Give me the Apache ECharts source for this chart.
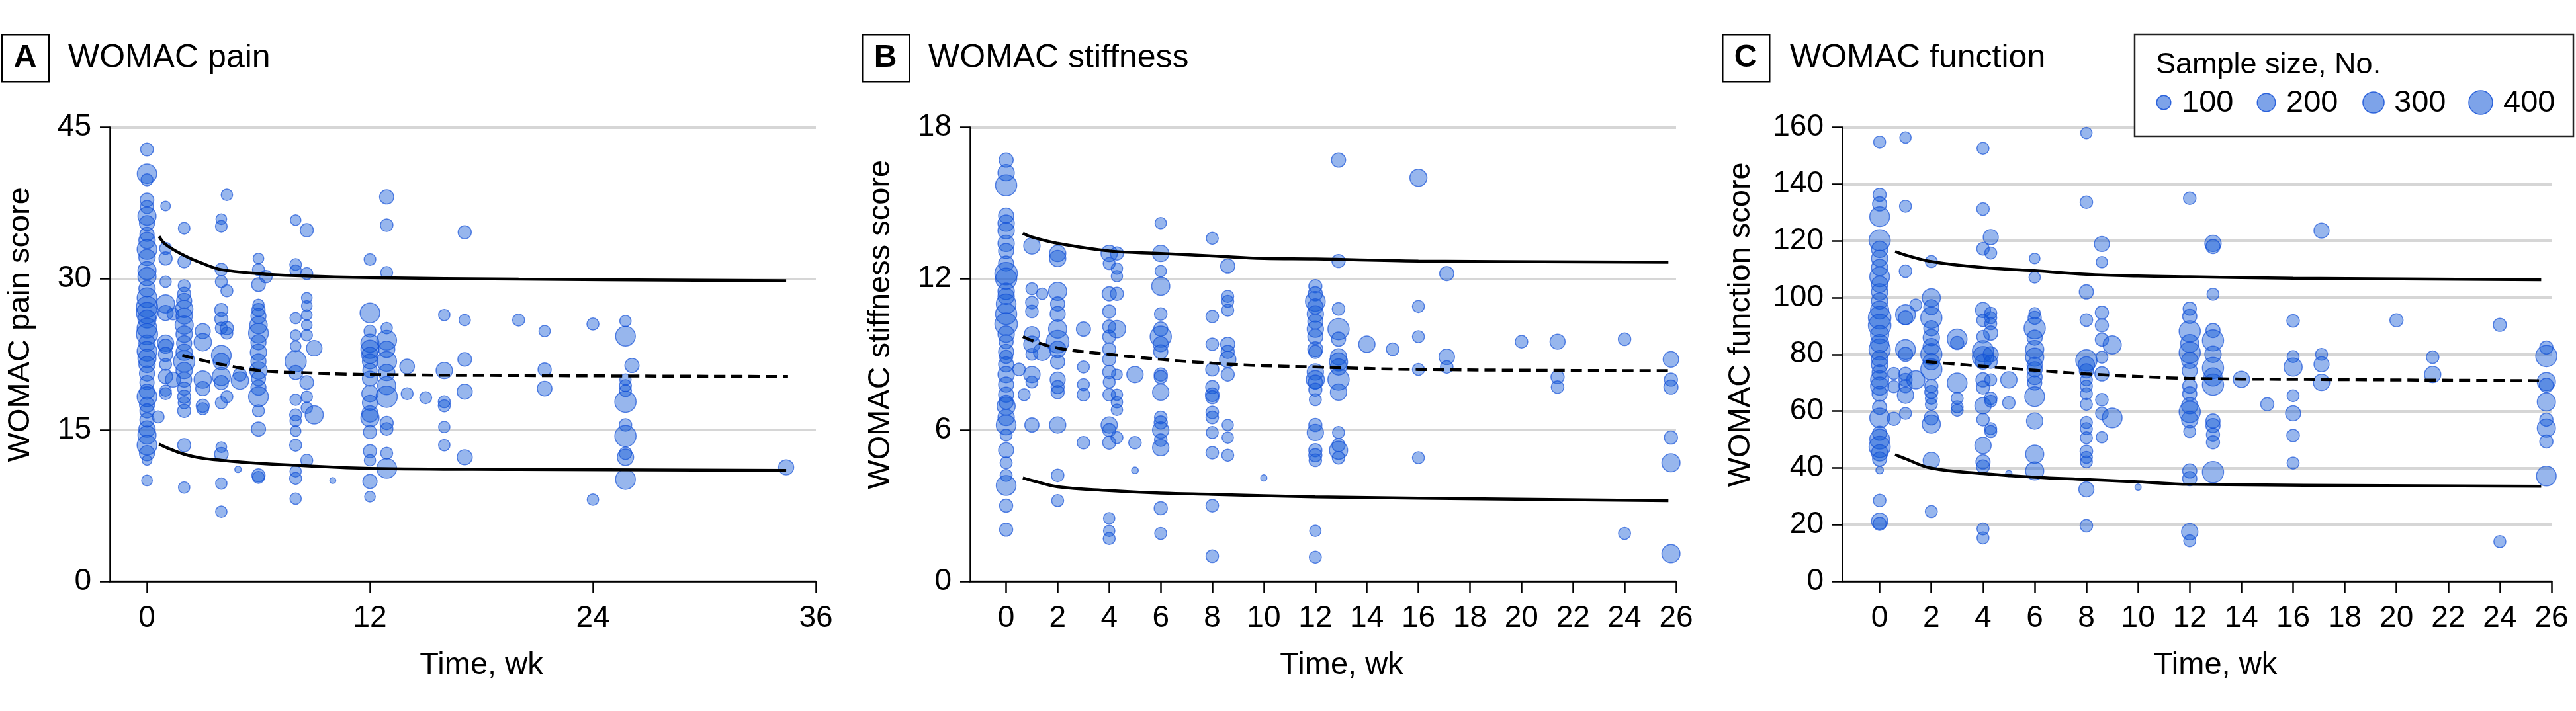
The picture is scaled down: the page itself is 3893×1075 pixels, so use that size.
<!DOCTYPE html>
<html>
<head>
<meta charset="utf-8">
<script src="https://cdn.jsdelivr.net/npm/echarts@6/dist/echarts.min.js"></script>
<style>
html,body{margin:0;padding:0;background:#fff;}
#chart{width:3893px;height:1075px;}
</style>
</head>
<body>
<div id="chart"></div>
<script>
// ---------- DATA ----------
// points: [week, score, sample size]
var painPoints = [
[0,42.8,75],[0,40.4,240],[0,39.8,60],[0,37.8,90],[0,37.1,80],[0,36.2,200],[0,35.5,120],[0,34.4,100],[0,33.8,150],[0,32.9,250],[0,32.1,150],[0,30.8,200],[0,30.2,200],[0,29.0,150],[0,28.1,250],[0,27.2,300],[0,26.6,300],[0,26.0,200],[0,25.1,250],[0,24.5,300],[0,23.6,150],[0,22.8,250],[0,22.1,200],[0,21.5,150],[0,20.6,120],[0,19.7,100],[0,18.8,120],[0,18.3,250],[0,17.5,120],[0,16.9,100],[0,16.0,100],[0,15.1,150],[0,14.5,200],[0,13.5,250],[0,12.7,120],[0,12.0,30],[0,10.0,40],
[0.6,16.3,60],
[1,37.2,28],[1,33.0,60],[1,32.0,80],[1,29.7,50],[1,27.5,200],[1,26.6,120],[1,23.6,150],[1,23.3,100],[1,22.5,100],[1,21.5,60],[1,20.3,100],[1,18.9,50],[1,18.6,60],
[1.4,20.0,120],[1.4,26.5,60],
[2,35.0,54],[2,31.7,70],[2,29.3,60],[2,28.5,80],[2,27.8,120],[2,27.0,180],[2,26.3,150],[2,25.4,200],[2,24.5,150],[2,23.6,120],[2,22.7,150],[2,21.8,300],[2,20.9,150],[2,20.0,120],[2,19.1,80],[2,18.3,80],[2,17.7,60],[2,16.9,80],[2,13.5,80],[2,9.3,50],
[3,24.8,120],[3,23.7,180],[3,20.0,180],[3,19.1,100],[3,17.4,80],[3,17.1,60],
[4,35.9,40],[4,35.2,55],[4,30.9,70],[4,29.7,60],[4,26.9,80],[4,26.0,80],[4,25.1,60],[4,22.4,250],[4,21.8,150],[4,20.3,200],[4,19.7,100],[4,17.7,60],[4,13.3,40],[4,12.6,90],[4,9.7,50],[4,6.9,50],
[4.3,38.3,50],[4.3,28.8,60],[4.3,25.1,80],[4.3,24.6,60],[4.3,18.3,60],
[5,19.9,180],[5,20.5,80],[4.9,11.1,4],
[6,32.0,40],[6,30.9,60],[6.4,30.2,70],[6,29.4,90],[6,27.4,50],[6,26.9,80],[6,26.3,120],[6,25.4,180],[6,24.6,250],[6,23.7,120],[6,22.7,150],[6,21.8,120],[6,20.9,180],[6,20.1,100],[6,19.2,120],[6,18.3,250],[6,16.9,60],[6,15.1,100],[6,10.5,80],[6,10.3,60],
[8,35.8,40],[8,31.4,55],[8,30.8,50],[8,26.1,50],[8,24.4,40],[8,23.3,40],[8,21.8,300],[8,20.7,100],[8,18.0,50],[8,16.5,60],[8,15.9,50],[8,14.9,40],[8,13.5,60],[8,10.9,50],[8,10.2,60],[8,8.2,50],
[8.6,34.8,80],[8.6,30.5,60],[8.6,28.1,40],[8.6,27.3,40],[8.6,26.4,40],[8.6,25.4,40],[8.6,24.4,50],[8.6,19.7,90],[8.6,18.3,50],[8.6,17.2,50],[8.6,12.0,60],
[9,23.1,130],[9,16.5,200],[10,10.0,2],
[12,31.9,55],[12,26.6,250],[12,24.8,60],[12,23.6,200],[12,23.0,200],[12,22.4,150],[12,21.8,120],[12,20.9,100],[12,20.1,120],[12,18.6,150],[12,17.7,120],[12,16.6,150],[12,16.2,200],[12,14.8,80],[12,12.9,80],[12,12.0,50],[12,9.9,100],[12,8.4,40],
[12.9,38.1,100],[12.9,35.3,70],[12.9,30.6,60],[12.9,25.1,50],[12.9,23.9,250],[12.9,23.0,150],[12.9,21.8,250],[12.9,20.7,150],[12.9,19.4,200],[12.9,18.3,300],[12.9,15.7,80],[12.9,15.1,70],[12.9,12.7,60],[12.9,11.2,250],
[14,21.3,110],[14,18.6,60],[15,18.2,60],
[16,26.4,50],[16,20.9,150],[16,17.8,60],[16,17.4,60],[16,15.3,50],[16,13.5,50],
[17.1,34.6,80],[17.1,25.9,50],[17.1,22.0,90],[17.1,18.8,120],[17.1,12.3,120],
[20,25.9,60],[21.4,24.8,50],[21.4,21.0,80],[21.4,19.1,110],
[24,25.5,60],[24,8.1,50],
[25.75,25.8,50],[25.75,24.3,250],[25.75,20.0,50],[25.75,19.4,60],[25.75,18.9,60],[25.75,17.8,300],[25.75,15.5,70],[25.75,14.4,300],[25.75,12.7,70],[25.75,12.3,150],[25.75,10.1,250],
[26.1,21.4,100],[34.4,11.3,120]
];
var painUpper = [[0.65,34.2],[1,33.4],[2,32.3],[3,31.5],[4,30.9],[6,30.5],[8,30.3],[12,30.1],[20,29.95],[34.4,29.8]];
var painMedian = [[1.9,22.4],[3,21.9],[4,21.5],[6,20.9],[8,20.7],[12,20.5],[20,20.4],[34.5,20.3]];
var painLower = [[0.65,13.6],[1,13.3],[2,12.6],[3,12.2],[4,12.0],[6,11.7],[8,11.5],[12,11.2],[20,11.1],[34.4,11.0]];

var stiffPoints = [
[0,16.7,100],[0,16.2,150],[0,15.7,300],[0,14.5,120],[0,14.2,150],[0,13.9,150],[0,13.4,150],[0,13.1,120],[0,12.6,120],[0,12.2,350],[0,12.0,300],[0,11.5,150],[0,11.3,150],[0,11.0,250],[0,10.6,300],[0,10.2,350],[0,9.8,150],[0,9.5,100],[0,9.1,120],[0,8.9,80],[0,8.6,120],[0,8.2,150],[0,7.8,120],[0,7.4,120],[0,7.1,100],[0,6.95,200],[0,6.5,150],[0,6.2,250],[0,5.8,60],[0,5.2,120],[0,4.7,60],[0,4.2,60],[0,3.8,250],[0,3.0,80],[0,2.05,80],
[0.5,8.4,70],[0.7,7.4,60],
[1,13.3,150],[1,11.6,60],[1,11.05,70],[1,10.7,70],[1,9.8,120],[1,9.4,150],[1,9.0,60],[1,8.2,150],[1,7.9,60],[1,6.2,100],
[1.4,11.4,50],[1.4,9.1,180],
[2,13.0,150],[2,12.8,150],[2,11.5,200],[2,11.0,100],[2,10.6,120],[2,10.0,200],[2,9.5,350],[2,9.2,150],[2,8.7,100],[2,8.0,120],[2,7.7,80],[2,7.5,80],[2,6.2,150],[2,4.2,70],[2,3.2,60],
[3,10.0,100],[3,8.5,60],[3,7.8,60],[3,7.4,70],[3,5.5,70],
[4,13.0,150],[4,12.6,60],[4,11.4,100],[4,10.7,80],[4,10.1,80],[4,9.7,80],[4,9.2,80],[4,8.8,80],[4,8.3,80],[4,7.9,60],[4,7.4,70],[4,6.2,150],[4,6.0,80],[4,5.5,80],[4,2.5,50],[4,2.0,50],[4,1.7,60],
[4.3,13.0,80],[4.3,12.4,50],[4.3,12.1,50],[4.3,11.4,80],[4.3,10.0,180],[4.3,8.2,40],[4.3,7.4,50],[4.3,7.1,50],[4.3,6.8,50],[4.3,5.7,60],
[5,8.2,150],[5,5.5,70],[5,4.4,5],
[6,14.2,50],[6,13.0,150],[6,12.3,50],[6,11.7,200],[6,10.6,70],[6,10.0,100],[6,9.7,300],[6,9.4,120],[6,9.1,100],[6,8.2,80],[6,8.1,80],[6,7.5,150],[6,6.5,70],[6,6.3,80],[6,6.0,150],[6,5.6,70],[6,5.3,150],[6,2.9,80],[6,1.9,60],
[8,13.6,60],[8,10.5,70],[8,9.4,70],[8,8.4,80],[8,7.7,80],[8,7.4,90],[8,7.3,80],[8,6.7,70],[8,6.5,70],[8,5.9,60],[8,5.1,70],[8,3.0,70],[8,1.0,70],
[8.6,12.5,100],[8.6,11.3,60],[8.6,11.1,60],[8.6,10.75,60],[8.6,9.4,100],[8.6,9.1,80],[8.6,8.8,150],[8.6,8.2,80],[8.6,6.2,50],[8.6,5.7,50],[8.6,5.0,60],
[10,4.1,3],
[12,11.7,80],[12,11.4,100],[12,11.1,250],[12,10.9,120],[12,10.6,150],[12,10.3,120],[12,10.0,150],[12,9.7,120],[12,9.2,120],[12,9.1,80],[12,8.3,150],[12,8.0,200],[12,7.9,100],[12,7.6,80],[12,7.2,60],[12,6.2,80],[12,5.9,150],[12,5.2,80],[12,5.0,80],[12,4.8,70],[12,2.0,50],[12,0.96,60],
[12.9,16.7,100],[12.9,12.7,80],[12.9,10.8,70],[12.9,10.0,300],[12.9,9.6,100],[12.9,8.9,150],[12.9,8.7,200],[12.9,8.5,150],[12.9,8.0,300],[12.9,7.5,150],[12.9,5.9,60],[12.9,5.4,80],[12.9,5.2,200],[12.9,4.9,70],
[14,9.4,150],[15,9.2,70],
[16,16.0,170],[16,10.9,60],[16,9.7,60],[16,8.4,60],[16,4.9,60],
[17.1,12.2,100],[17.1,8.9,130],[17.1,8.5,70],
[20,9.5,70],[21.4,9.5,120],[21.4,8.1,80],[21.4,7.7,70],
[24,9.6,70],[24,1.9,60],
[25.8,8.8,130],[25.8,8.0,80],[25.8,7.7,100],[25.8,5.7,80],[25.8,4.7,200],[25.8,1.1,200]
];
var stiffUpper = [[0.65,13.8],[1,13.65],[2,13.4],[4,13.1],[6,13.0],[8,12.9],[10,12.8],[12,12.78],[16,12.7],[25.7,12.65]];
var stiffMedian = [[0.65,9.7],[1,9.55],[2,9.25],[4,9.0],[6,8.8],[8,8.65],[10,8.55],[12,8.5],[16,8.4],[25.7,8.35]];
var stiffLower = [[0.65,4.1],[1,4.0],[2,3.75],[4,3.6],[6,3.5],[8,3.45],[12,3.35],[16,3.3],[25.7,3.2]];

var funcPoints = [
[0,154.8,60],[0,136.2,80],[0,133.0,100],[0,128.5,250],[0,120.2,300],[0,117.0,150],[0,113.8,150],[0,110.6,150],[0,107.3,250],[0,104.7,150],[0,102.0,150],[0,98.8,150],[0,95.6,200],[0,92.9,350],[0,90.2,350],[0,87.0,200],[0,83.8,200],[0,81.7,300],[0,78.5,150],[0,76.3,150],[0,73.6,120],[0,71.0,200],[0,68.8,200],[0,66.1,120],[0,61.3,100],[0,57.6,250],[0,52.2,100],[0,50.1,250],[0,47.4,300],[0,45.3,150],[0,43.1,100],[0,39.2,10],[0,28.5,70],[0,21.2,150],[0,20.3,80],
[0.55,73.3,60],[0.55,68.6,60],[0.55,57.3,80],
[1,156.4,50],[1,132.2,60],[1,109.3,70],[1,94.0,250],[1,92.9,100],[1,81.7,250],[1,80.0,100],[1,73.1,80],[1,71.0,80],[1,68.8,80],[1,65.6,150],[1,59.2,60],
[1.4,97.4,60],[1.4,71.0,200],
[2,112.7,60],[2,99.9,200],[2,96.6,120],[2,92.9,300],[2,89.2,120],[2,85.9,150],[2,82.7,150],[2,80.0,300],[2,77.4,150],[2,74.7,300],[2,68.8,80],[2,66.7,80],[2,64.5,60],[2,62.4,60],[2,57.6,100],[2,55.4,200],[2,42.6,150],[2,24.6,60],
[3,85.4,250],[3,84.0,80],[3,69.9,250],[3,64.5,60],[3,61.5,60],[3,60.3,60],
[4,152.6,60],[4,131.2,70],[4,117.2,70],[4,95.6,120],[4,92.0,70],[4,86.2,70],[4,81.1,300],[4,79.0,300],[4,77.4,120],[4,71.0,100],[4,68.3,80],[4,61.9,150],[4,57.0,70],[4,47.9,150],[4,42.1,100],[4,40.5,80],[4,18.5,60],[4,15.3,60],
[4.3,121.3,120],[4.3,115.7,60],[4.3,94.5,60],[4.3,92.9,60],[4.3,90.8,60],[4.3,87.5,100],[4.3,80.0,120],[4.3,77.4,80],[4.3,71.0,60],[4.3,64.5,70],[4.3,63.5,60],[4.3,53.8,60],[4.3,52.8,60],
[5,71.0,150],[5,62.9,70],[5,38.0,3],
[6,113.8,40],[6,107.1,50],[6,94.5,50],[6,92.9,80],[6,89.2,300],[6,85.9,120],[6,81.7,200],[6,79.0,200],[6,76.3,120],[6,74.7,120],[6,72.0,120],[6,69.9,100],[6,65.1,250],[6,56.5,150],[6,44.8,200],[6,38.9,200],
[8,158.0,50],[8,133.6,70],[8,102.0,100],[8,92.1,70],[8,77.9,300],[8,76.3,150],[8,74.2,100],[8,71.0,60],[8,68.8,60],[8,66.1,60],[8,62.4,60],[8,56.0,60],[8,53.8,60],[8,50.6,60],[8,45.8,70],[8,43.7,60],[8,42.1,60],[8,32.4,120],[8,19.6,70],
[8.6,118.9,120],[8.6,112.5,50],[8.6,94.7,80],[8.6,90.2,80],[8.6,85.2,80],[8.6,79.0,60],[8.6,73.1,100],[8.6,64.0,70],[8.6,59.2,70],[8.6,50.8,50],
[9,83.3,200],[9,57.6,250],[10,33.2,3],
[12,135.0,70],[12,96.1,80],[12,93.4,100],[12,88.1,300],[12,83.8,200],[12,80.6,300],[12,77.9,150],[12,74.2,120],[12,68.8,100],[12,66.1,100],[12,61.9,150],[12,59.7,300],[12,57.0,150],[12,52.8,60],[12,38.9,100],[12,36.2,100],[12,17.5,150],[12,14.3,60],
[12.9,119.1,150],[12.9,118.0,100],[12.9,101.2,60],[12.9,88.4,100],[12.9,84.9,300],[12.9,80.0,150],[12.9,75.2,300],[12.9,72.0,200],[12.9,69.3,300],[12.9,56.5,100],[12.9,54.9,100],[12.9,51.7,80],[12.9,49.0,80],[12.9,38.5,300],
[14,71.2,150],[15,62.4,80],
[16,91.8,70],[16,79.2,60],[16,75.5,200],[16,65.4,60],[16,59.2,120],[16,51.4,70],[16,41.7,60],
[17.1,123.6,120],[17.1,80.0,60],[17.1,76.5,120],[17.1,70.1,150],
[20,92.0,80],[21.4,79.0,70],[21.4,72.9,150],
[24,90.4,80],[24,14.0,60],
[25.8,82.4,80],[25.8,79.4,300],[25.8,70.4,200],[25.8,69.1,100],[25.8,63.2,200],[25.8,57.0,80],[25.8,54.0,200],[25.8,49.3,80],[25.8,37.1,250]
];
var funcUpper = [[0.6,116.2],[1,115.0],[2,112.7],[4,110.6],[6,109.5],[8,108.2],[10,107.6],[12,107.3],[16,106.8],[25.6,106.3]];
var funcMedian = [[1.8,77.4],[4,75.8],[6,74.4],[8,73.1],[10,72.2],[12,71.5],[16,71.2],[25.6,70.7]];
var funcLower = [[0.6,44.7],[1,43.2],[2,39.9],[4,38.0],[6,36.7],[8,35.9],[10,35.1],[12,34.2],[25.6,33.5]];

var painXTicks = [0,12,24,36];
var weekXTicks = [0,2,4,6,8,10,12,14,16,18,20,22,24,26];
var panelLetters = ['A','B','C'];
var panelTitles = ['WOMAC pain','WOMAC stiffness','WOMAC function'];
var yNames = ['WOMAC pain score','WOMAC stiffness score','WOMAC function score'];
var xName = 'Time, wk';
var legendTitle = 'Sample size, No.';
var legendSizes = [100,200,300,400];

// ---------- CHART ----------
var FONT = 'Liberation Sans, Arial, sans-serif';
function sizeFn(n){ return 7 + 1.45*Math.sqrt(n); }
var pointStyle = {color:'rgba(18,88,215,0.55)', borderColor:'rgba(20,80,215,0.85)', borderWidth:1.5};

var grids = [
  {left:166, top:192.5, width:1067, height:686.5},
  {left:1466, top:192.5, width:1067, height:686.5},
  {left:2784, top:192.5, width:1072, height:686.5}
];
var xRanges = [[-2,36],[-1.4,26],[-1.45,26]];
var xTicks = [painXTicks, weekXTicks, weekXTicks];
var yRanges = [[0,45,15],[0,18,6],[0,160,20]];
var yNameGaps = [111, 111, 129];

var xAxes = [], yAxes = [];
for (var i=0;i<3;i++){
  xAxes.push({
    type:'value', gridIndex:i, min:xRanges[i][0], max:xRanges[i][1],
    name:xName, nameLocation:'middle', nameGap:104,
    nameTextStyle:{fontFamily:FONT, fontSize:47, color:'#000', padding:[0,0,0,56]},
    axisLine:{show:true, onZero:false, lineStyle:{color:'#000', width:2.5}},
    axisTick:{show:true, length:18, lineStyle:{color:'#000', width:2.5}, customValues:xTicks[i]},
    axisLabel:{fontFamily:FONT, fontSize:46, color:'#000', margin:33, customValues:xTicks[i]},
    splitLine:{show:false}
  });
  yAxes.push({
    type:'value', gridIndex:i, min:yRanges[i][0], max:yRanges[i][1], interval:yRanges[i][2],
    name:yNames[i], nameLocation:'middle', nameRotate:90, nameGap:yNameGaps[i],
    nameTextStyle:{fontFamily:FONT, fontSize:47, color:'#000', padding:[0,0,0,90]},
    axisLine:{show:true, onZero:false, lineStyle:{color:'#000', width:2.5}},
    axisTick:{show:true, length:15, lineStyle:{color:'#000', width:2.5}},
    axisLabel:{fontFamily:FONT, fontSize:46, color:'#000', margin:28},
    splitLine:{show:true, lineStyle:{color:'#d6d6d6', width:4}}
  });
}

var pointSets = [painPoints, stiffPoints, funcPoints];
var curveSets = [[painUpper,painMedian,painLower],[stiffUpper,stiffMedian,stiffLower],[funcUpper,funcMedian,funcLower]];
var series = [];
for (var i=0;i<3;i++){
  series.push({
    type:'scatter', xAxisIndex:i, yAxisIndex:i, data:pointSets[i],
    symbolSize:function(v){ return sizeFn(v[2]); },
    itemStyle:pointStyle, z:2, silent:true
  });
  for (var k=0;k<3;k++){
    series.push({
      type:'line', xAxisIndex:i, yAxisIndex:i, data:curveSets[i][k],
      showSymbol:false, smooth:0.4, silent:true, z:5,
      lineStyle:{color:'#000', width:4.5, type:(k===1?[17,9]:'solid')}
    });
  }
}

var graphics = [];
var boxX = [2, 1302, 2602];
var titleX = [103, 1403, 2705];
for (var i=0;i<3;i++){
  graphics.push({type:'rect', left:boxX[i], top:51, shape:{width:71, height:71},
    style:{fill:'#fff', stroke:'#000', lineWidth:2.5}});
  graphics.push({type:'text', x:boxX[i]+36, y:88, style:{text:panelLetters[i], font:'bold 48px '+FONT,
    fill:'#000', textAlign:'center', textVerticalAlign:'middle'}});
  graphics.push({type:'text', x:titleX[i], y:88, style:{text:panelTitles[i], font:'50px '+FONT,
    fill:'#000', textAlign:'left', textVerticalAlign:'middle'}});
}
// legend
graphics.push({type:'rect', shape:{x:3226, y:52, width:663, height:154},
  style:{fill:'#fff', stroke:'#222', lineWidth:2.5}, z:10});
graphics.push({type:'text', x:3258, y:99, z:11, style:{text:legendTitle, font:'45px '+FONT,
  fill:'#000', textAlign:'left', textVerticalAlign:'middle'}});
var legCx = [3270, 3425, 3587, 3749];
var legTx = [3297, 3455, 3618, 3783];
for (var j=0;j<legendSizes.length;j++){
  graphics.push({type:'circle', z:11, shape:{cx:legCx[j], cy:155, r:sizeFn(legendSizes[j])/2},
    style:{fill:pointStyle.color, stroke:pointStyle.borderColor, lineWidth:1.5}});
  graphics.push({type:'text', x:legTx[j], y:156, z:11, style:{text:String(legendSizes[j]), font:'47px '+FONT,
    fill:'#000', textAlign:'left', textVerticalAlign:'middle'}});
}

var chart = echarts.init(document.getElementById('chart'), null, {renderer:'canvas', width:3893, height:1075});
chart.setOption({
  animation:false,
  backgroundColor:'#fff',
  grid:grids, xAxis:xAxes, yAxis:yAxes, series:series, graphic:graphics
});
</script>
</body>
</html>
